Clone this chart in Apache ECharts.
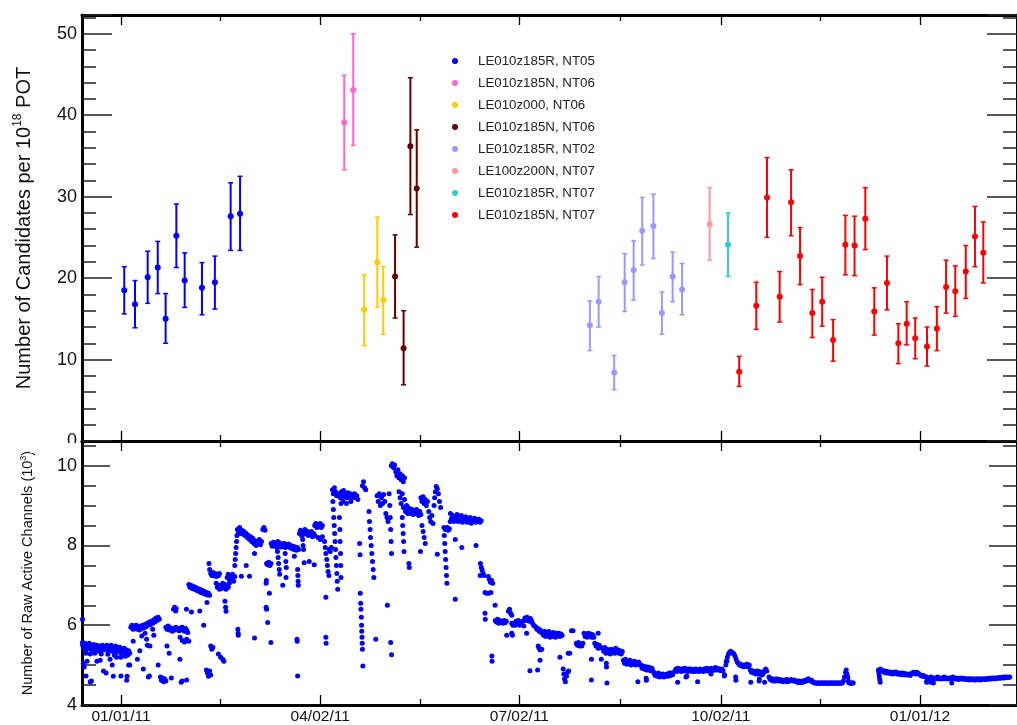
<!DOCTYPE html>
<html>
<head>
<meta charset="utf-8">
<script src="https://cdn.jsdelivr.net/npm/echarts@6/dist/echarts.min.js"></script>
<style>
html, body { margin: 0; background: #fff; }
#chart { width: 1017px; height: 725px; }
</style>
</head>
<body>
<div id="chart"></div>
<script>
// x values are days since 01/01/11
const tickDays = [0, 91, 182, 274, 365];
const tickLabels = ['01/01/11', '04/02/11', '07/02/11', '10/02/11', '01/01/12'];
const minorDays = [45.5, 136.5, 228, 319.5];

const seriesNames = ['LE010z185R, NT05', 'LE010z185N, NT06', 'LE010z000, NT06', 'LE010z185N, NT06 ',
    'LE010z185R, NT02', 'LE100z200N, NT07', 'LE010z185R, NT07', 'LE010z185N, NT07'];
const seriesColors = ['#0000ff', '#ff66cc', '#ffcc00', '#660000', '#9999ff', '#ff9999', '#33cccc', '#ff0000'];

// [day, candidates, low, high]
const nt05 = [[1.5,18.5,15.6,21.4],[6.4,16.8,13.9,19.7],[12.2,20.1,16.9,23.3],[16.8,21.3,18.1,24.5],[20.4,15.0,12.0,18.1],
    [25.3,25.2,21.3,29.1],[29.1,19.7,16.4,23.1],[37.0,18.8,15.5,21.9],[42.9,19.5,16.2,22.7],[50.1,27.6,23.4,31.7],[54.4,27.9,23.4,32.5]];
const nt06N = [[102.0,39.1,33.3,44.9],[106.1,43.1,36.3,50.0]];
const nt06z000 = [[111.1,16.1,11.7,20.4],[117.1,21.9,16.4,27.5],[119.8,17.3,13.1,21.4]];
const nt06Nb = [[125.2,20.2,15.1,25.3],[129.1,11.4,6.9,16.0],[132.2,36.2,27.8,44.6],[135.1,31.0,23.8,38.2]];
const nt02 = [[214.2,14.2,11.1,17.2],[218.2,17.1,14.0,20.2],[225.3,8.4,6.3,10.5],[230.1,19.5,15.9,23.0],[234.2,21.0,17.3,24.6],
    [238.1,25.8,21.6,29.9],[243.2,26.4,22.4,30.3],[247.1,15.7,13.1,18.3],[252.0,20.2,17.1,23.2],[256.3,18.6,15.5,21.8]];
const nt07z200 = [[268.9,26.6,22.2,31.1]];
const nt07R = [[277.3,24.1,20.2,28.0]];
const nt07N = [[282.4,8.5,6.7,10.4],[290.2,16.6,13.7,19.5],[295.1,29.9,25.0,34.8],[300.9,17.7,14.6,20.8],[306.1,29.3,25.2,33.3],
    [310.2,22.7,19.2,26.2],[315.8,15.7,12.7,18.6],[320.3,17.1,14.1,20.1],[325.3,12.4,9.8,14.9],[330.9,24.1,20.4,27.7],
    [335.1,24.0,20.3,27.6],[340.0,27.3,23.5,31.1],[344.1,15.9,13.0,18.8],[349.9,19.4,16.1,22.7],[355.1,12.0,9.5,14.4],
    [358.9,14.4,11.8,17.1],[362.8,12.6,10.1,15.1],[368.2,11.6,9.2,14.0],[372.7,13.8,11.1,16.5],[376.9,18.9,15.7,22.2],
    [381.1,18.4,15.3,21.5],[385.9,20.8,17.5,24.0],[390.1,25.1,21.4,28.8],[393.9,23.1,19.4,26.9]];
const candidateSets = [nt05, nt06N, nt06z000, nt06Nb, nt02, nt07z200, nt07R, nt07N];

// [day, raw active channels (10^3)]
const channels = [
 [-17.5,5.5],[-17,5.42],[-16.5,5.55],[-16,5.38],[-15.5,5.5],[-15,5.45],[-14.5,5.55],[-14,5.4],[-13.5,5.48],[-13,5.36],[-12.5,5.52],[-12,5.44],
 [-11.5,5.4],[-11,5.5],[-10.5,5.45],[-10,5.35],[-9.5,5.48],[-9,5.42],[-8.5,5.5],[-8,5.38],[-7.5,5.46],[-7,5.42],[-6.5,5.5],[-6,5.36],
 [-5.5,5.45],[-5,5.4],[-4.5,5.5],[-4,5.35],[-3.5,5.44],[-3,5.4],[-2.5,5.48],[-2,5.32],[-1.5,5.42],[-1,5.38],[-0.5,5.45],[0,5.3],
 [0.5,5.4],[1,5.35],[1.5,5.42],[2,5.3],[2.5,5.38],[3,5.25],[3.5,5.36],[4,5.3],
 [-16,5.3],[-14,5.28],[-12,5.3],[-9,5.28],[-6,5.27],[-3,5.25],[0,5.2],[2,5.22],
 [-17.6,6.15],[-17.6,5.57],[-17.2,5.05],[-16.8,4.95],[-16,4.73],[-15.5,5.1],[-14,4.58],[-13.5,4.6],[-11,5.1],[-9.5,5.12],
 [-8,4.85],[-6.8,4.8],[-4,5.0],[-3.5,4.72],[0,4.73],[2.6,4.62],[2.8,4.72],[3.5,5.0],[4,5.0],[-5,5.15],[-2,5.2],
 [4.5,5.95],[5,6.0],[5.5,5.9],[6,5.98],[6.5,5.92],[7,6.0],[7.5,5.9],[8,5.96],[8.5,5.88],[9,5.98],[9.5,5.92],[10,6.0],
 [10.5,5.94],[11,6.02],[11.5,5.96],[12,6.05],[12.5,6.0],[13,6.08],[13.5,6.02],[14,6.1],[14.5,6.05],[15,6.14],[15.5,6.08],
 [16,6.18],[16.5,6.12],[17,6.2],[17.5,6.15],
 [5.6,5.6],[7.5,5.15],[8.6,5.36],[9.5,5.73],[10.2,4.9],[11.7,5.65],[12,5.5],[13.2,5.48],[11,5.8],[12.5,4.7],[13,4.73],
 [14.5,5.9],[15,5.75],[17,5.0],
 [18,4.7],[18.5,4.62],[19,4.68],[19.5,4.58],[20,4.65],[20.5,4.6],[23,4.68],[27.5,4.57],[28,4.6],[30,4.63],
 [20.5,5.95],[21,5.9],[21.5,5.98],[22,5.88],[22.5,5.94],[23,5.9],[23.5,5.85],[24,5.92],[24.5,5.88],[25,5.95],[26,5.9],
 [26.5,5.86],[27,5.93],[27.5,5.88],[28,5.95],[28.5,5.9],[29,5.85],[29.5,5.92],[30,5.88],[30.5,5.82],
 [24,6.4],[24.5,6.45],[25,6.36],[25.2,6.42],
 [27,5.7],[28,5.62],[29,5.58],[30,5.65],[31,5.6],[26.9,5.15],[21,5.48],[22,5.3],
 [31,7.02],[31.5,6.95],[32,7.0],[32.5,6.92],[33,6.97],[33.5,6.9],[34,6.95],[34.5,6.88],[35,6.92],[35.5,6.85],[36,6.9],
 [36.5,6.82],[37,6.88],[37.5,6.8],[38,6.85],[38.5,6.78],[39,6.82],[39.5,6.76],[40,6.8],[40.5,6.75],
 [29.9,6.4],[32.2,6.33],[36,6.36],[37.8,6.0],[40.2,7.55],[40.5,7.4],[39.3,6.57],
 [39,4.88],[39.5,4.8],[40,4.72],[40.5,4.85],[41,4.75],[41,5.48],[41.5,5.4],[42,5.45],
 [41,7.3],[41.5,7.25],[42,7.32],[42.5,7.24],[43,7.3],[43.5,7.22],[44,7.28],[44.5,7.24],[45,7.3],
 [43.5,7.05],[44,6.95],[44.5,7.0],[45,6.9],[45.5,7.0],[46,6.92],[46.5,7.05],[47,6.96],[47.5,7.02],[48,6.9],[48.5,7.0],
 [49,6.95],[49.5,7.05],
 [44.5,5.28],[45.5,5.2],[46.5,5.15],[47,5.1],
 [48.5,7.2],[49,7.28],[49.5,7.15],[50,7.25],[50.5,7.18],[51,7.28],[51.5,7.1],[52,7.22],
 [47.5,6.6],[47.8,6.45],[48,6.35],
 [52,7.5],[52.2,7.65],[52.4,7.8],[52.6,7.95],[52.8,8.1],[53,8.25],[53.4,5.9],[53.5,5.8],[53.6,5.75],
 [53.2,8.4],[53.7,8.32],[54.2,8.45],[54.7,8.3],[55.2,8.38],[55.7,8.28],[56.2,8.35],[56.7,8.25],
 [57.2,8.3],[57.7,8.2],[58.2,8.25],[58.7,8.15],[59.2,8.22],[59.7,8.1],[60.2,8.18],[60.7,8.05],[61.2,8.12],[61.7,8.0],
 [62.2,8.1],[62.7,8.05],[63.2,8.15],[63.7,8.02],[64.2,8.1],
 [55,7.23],[58.7,7.23],[57.2,7.5],[61,7.8],[61,5.68],
 [64.8,8.4],[65.3,8.45],[65.8,8.38],
 [66.3,7.05],[66.4,7.12],[66.3,6.45],[66.5,6.4],[67,6.07],[67.8,6.8],[68.5,5.57],
 [66.5,7.55],[67,7.52],[67.5,7.58],[68,7.5],[68.5,7.55],
 [68.6,8.05],[69.1,7.98],[69.6,8.08],[70.1,8.0],[70.6,8.05],[71.1,7.95],[71.6,8.1],[72.1,8.02],[72.6,8.06],[73.1,7.96],
 [73.6,8.04],[74.1,7.98],[74.6,8.05],[75.1,7.95],[75.6,8.02],[76.1,7.98],[76.6,8.04],[77.1,7.95],[77.6,8.0],[78.1,7.92],
 [71.5,7.85],[71.8,7.7],[72,7.55],[72.3,7.4],[72.5,7.28],[75,7.8],[75.3,7.6],[75.5,7.45],[73.9,7.0],[75.4,7.2],
 [78.6,7.98],[79.1,7.9],[79.6,7.96],[80.1,7.88],[80.6,7.95],[81.1,7.9],
 [79.2,7.73],[80.7,7.4],[80.8,7.25],[80.9,7.1],[81,7.0],[80.4,5.65],[80.5,5.6],[80.7,4.73],
 [81.5,8.3],[82,8.38],[82.5,8.25],[83,8.35],[83.5,8.28],[84,8.4],[84.5,8.3],[85,8.36],[85.5,8.25],[86,8.32],[86.5,8.28],
 [87,8.35],[87.5,8.22],[88,8.3],[88.5,8.25],
 [83,8.15],[83.2,8.0],[83.4,7.9],[83.7,7.57],[86,7.6],[88.3,7.52],
 [88.5,8.5],[89,8.55],[89.5,8.45],[90,8.52],[90.5,8.48],[91,8.55],[91.5,8.45],[92,8.5],
 [90,8.2],[91,8.15],[92,8.22],
 [93,8.1],[93.3,7.95],[93.6,7.8],[94,7.65],[94.3,7.5],[94.6,7.35],[95,7.25],[93.6,6.7],[93.6,5.7],[93.7,5.55],
 [95.1,7.9],[95.6,7.85],[96.1,7.95],
 [96.6,9.4],[97,9.3],[97.5,9.45],[98,9.35],[98.5,9.25],
 [96.8,9.1],[97,8.9],[97.2,8.7],[97.4,8.5],[97.6,8.3],[97.8,8.1],[98,7.9],[98.2,7.7],[98.4,7.5],[98.6,7.3],[98.8,7.1],[99,6.9],
 [99.7,9.3],[100.2,9.2],[100.7,9.35],[101.2,9.25],[101.7,9.38],[102.2,9.22],[102.7,9.3],[103.2,9.2],[103.7,9.32],
 [104.2,9.25],[104.7,9.3],[105.2,9.18],[105.7,9.28],[106.2,9.22],[106.7,9.3],[107.2,9.2],[107.7,9.25],[108.2,9.15],
 [100.5,9.05],[101.5,9.1],[103,9.05],[105,9.1],
 [99.8,8.7],[100,8.4],[100.1,8.1],[100.3,7.8],[100.4,7.5],[100.5,7.2],
 [109,8.05],[109.2,7.77],[109.3,6.8],
 [110.3,9.5],[110.8,9.6],[111.3,9.45],[111.8,9.4],
 [109.5,6.55],[109.6,6.4],[109.8,6.2],[109.9,6.0],[110,5.85],[110.1,5.7],[110.2,5.55],[110.3,5.4],[110.5,4.98],
 [113.3,8.85],[113.5,8.6],[113.8,8.4],[114,8.2],[114.3,8.0],[114.6,7.8],[114.9,7.6],[115.2,7.4],[115.5,7.2],[116.4,5.65],
 [117,9.25],[117.5,9.1],[118,9.3],[118.5,9.0],[119,9.2],[119.5,9.05],[120,9.28],[120.5,9.1],
 [121,8.8],[121.5,8.7],[122,8.6],[121.7,6.5],
 [122.5,9.3],[122.8,9.0],[123,8.7],[123.2,8.4],[123.4,8.1],[123.6,7.8],[123.2,5.57],[123.6,5.26],
 [123.5,10.0],[124,10.05],[124.5,9.95],[125,10.02],
 [125.5,9.85],[126,9.75],[126.5,9.9],[127,9.7],[127.5,9.8],[128,9.65],[128.5,9.75],[129,9.6],[129.5,9.7],
 [127,9.35],[127.5,9.2],[128,9.05],[128.5,9.3],[129,8.95],[129.5,9.15],[130,8.85],[130.5,9.0],[131,8.8],
 [128.5,8.7],[128.7,8.5],[128.9,8.3],[129.1,8.1],[129.3,7.85],[131.5,7.55],[131.7,7.45],
 [131,8.95],[131.5,8.85],[132,8.92],[132.5,8.8],[133,8.9],[133.5,8.78],[134,8.88],[134.5,8.8],[135,8.9],[135.5,8.82],
 [136,8.75],[136.5,8.85],[137,8.78],[136.8,7.85],
 [137,9.2],[137.5,9.1],[138,9.22],[138.5,9.05],[139,9.15],[139.5,9.0],[140,9.1],
 [137.5,8.5],[138,8.35],[138.5,8.2],[139,8.05],
 [140.6,8.85],[141,8.7],[141.5,8.6],[142,8.75],[142.5,8.55],
 [143,9.0],[143.3,9.2],[143.6,9.35],[144,9.48],[144.5,9.42],[145,9.3],[145.5,9.1],[146,8.95],[144.5,7.78],
 [147.5,8.45],[147.7,8.25],[147.9,8.05],[148.1,7.85],[148.3,7.65],[148.5,7.45],[148.7,7.25],[148.9,7.05],
 [148.2,8.4],[149,8.45],[149.5,8.38],[150,8.42],
 [150.5,8.8],[151,8.68],[151.5,8.75],[152,8.6],[152.5,8.72],[153,8.65],[153.5,8.78],[154,8.6],[154.5,8.7],[155,8.62],
 [155.5,8.75],[156,8.58],[156.5,8.68],[157,8.62],[157.5,8.72],[158,8.58],[158.5,8.66],[159,8.6],[159.5,8.7],[160,8.56],
 [160.5,8.64],[161,8.6],[161.5,8.68],[162,8.58],[162.5,8.65],[163,8.6],[163.5,8.66],[164,8.58],[164.5,8.62],
 [152.7,8.15],[155.7,7.95],[152.7,6.65],[162.2,8.0],[150.4,8.6],
 [164.2,7.55],[164.6,7.45],[165,7.38],[165.4,7.3],[165.8,7.25],[164.1,7.25],
 [167.8,7.22],[168.3,7.15],[168.8,7.08],[169.3,7.12],[169.8,7.05],
 [166.3,6.82],[167,6.8],[168,6.8],[169,6.82],[170.9,6.5],[166.3,6.3],[166.4,6.15],[169.4,5.23],[169.5,5.1],
 [171,6.12],[171.5,6.08],[172,6.15],[172.5,6.05],[173,6.12],[173.5,6.08],[174,6.1],[174.5,6.05],[175,6.12],[175.5,6.06],[176,6.1],
 [177,6.35],[177.5,6.4],[178,6.3],[178.5,6.25],
 [178.5,6.05],[179,6.0],[179.5,6.05],[180,6.0],[178.5,5.8],[178.8,5.75],[176.2,5.75],
 [180.5,6.1],[181,6.05],[181.5,6.12],[182,6.0],[182.5,6.08],[183,6.02],[183.5,6.1],[184,5.98],
 [184.5,6.18],[185,6.12],[185.5,6.2],[186,6.15],[186.5,6.1],[187,6.17],[187.5,6.12],
 [185.3,5.8],[186.8,4.86],[190.3,4.88],
 [188,6.05],[188.5,6.0],[189,5.98],[189.5,5.95],[190,5.9],[190.5,5.92],[191,5.85],[191.5,5.88],[192,5.82],
 [190.6,5.48],[191,5.42],[191.5,5.38],[192.2,5.4],[191.4,5.12],
 [192.5,5.82],[193,5.75],[193.5,5.85],[194,5.72],[194.5,5.8],[195,5.75],[195.5,5.84],[196,5.7],[196.5,5.78],[197,5.72],
 [197.5,5.82],[198,5.76],[198.5,5.7],[199,5.8],[199.5,5.74],[200,5.8],[200.5,5.72],[201,5.78],[201.5,5.74],
 [200.5,5.2],
 [202,4.9],[202.3,4.78],[202.6,4.65],[203,4.58],[203.5,4.72],[204,4.82],[204.5,4.85],
 [204.3,5.3],[205,5.3],[205.8,5.86],[206.5,5.86],
 [208,5.55],[208.5,5.5],[209,5.57],[209.5,5.48],[210,5.52],[210.5,5.48],[211,5.55],
 [211.5,5.8],[212,5.72],[212.5,5.78],[213,5.7],[213.5,5.8],[214,5.74],[214.5,5.78],[215,5.7],[215.5,5.76],[216,5.7],
 [214.9,5.15],[214.9,4.63],
 [216.4,5.55],[217,5.48],[217.5,5.52],[218,5.42],[218.5,5.5],[219,5.45],[218,5.8],
 [219.4,5.15],[221.7,5.05],[221.8,4.95],[222,4.55],
 [220,5.42],[220.5,5.35],[221,5.44],[221.5,5.3],[222,5.4],[222.5,5.32],[223,5.38],[223.5,5.28],[224,5.4],[224.5,5.32],
 [225,5.36],[225.5,5.3],[226,5.42],[226.5,5.34],[227,5.38],[227.5,5.3],[228,5.36],[228.5,5.28],[229,5.34],
 [229.5,5.12],[230,5.05],[230.5,5.15],[231,5.02],[231.5,5.1],[232,5.05],[232.5,5.12],[233,5.0],[233.5,5.08],[234,5.04],
 [234.5,5.1],[235,5.0],[235.5,5.06],[236,5.02],[236.5,5.08],[237,5.0],
 [236.1,4.58],[239.9,4.67],[240,4.62],
 [237.5,5.0],[238,4.92],[238.5,4.98],[239,4.9],[239.5,4.96],[240,4.88],[240.5,4.95],[241,4.88],[241.5,4.94],[242,4.86],
 [242.5,4.92],[243,4.86],
 [243.5,4.8],[244,4.74],[244.5,4.78],[245,4.72],[245.5,4.8],[246,4.7],[246.5,4.76],[247,4.72],[247.5,4.78],[248,4.7],
 [248.5,4.76],[249,4.72],[249.5,4.78],[250,4.72],[250.5,4.8],[251,4.74],[251.5,4.8],[252,4.76],
 [253,4.85],[253.5,4.9],[254,4.84],[254.5,4.92],[255,4.86],[255.5,4.9],[256,4.84],[256.5,4.9],[257,4.86],[257.5,4.92],
 [258,4.85],[258.5,4.9],[259,4.84],[259.5,4.9],[260,4.86],[260.5,4.9],[261,4.84],[261.5,4.88],[262,4.84],[262.5,4.9],
 [263,4.85],[263.5,4.88],[264,4.84],[264.5,4.9],[265,4.86],[265.5,4.88],[266,4.84],
 [254.3,4.57],[258.1,4.7],[258.5,4.72],[263.4,4.58],
 [266.5,4.9],[267,4.86],[267.5,4.92],[268,4.85],[268.5,4.9],[269,4.88],[269.5,4.92],[270,4.86],[270.5,4.9],[271,4.88],
 [271.5,4.94],[272,4.88],[272.5,4.92],[273,4.88],[273.5,4.9],[274,4.86],[274.5,4.9],[275,4.86],
 [269.5,4.78],[275.6,4.73],[275.7,4.76],
 [276.3,5.0],[276.8,5.1],[276.5,5.1],[277,5.2],[277.5,5.28],[278,5.32],[278.5,5.35],[279,5.32],[279.5,5.3],[280,5.28],[280.5,5.22],
 [281,5.15],[281.5,5.08],[282,5.05],[282.5,5.0],[283,5.02],[283.5,4.98],[284,5.0],[284.5,4.96],[285,5.0],[285.5,4.98],
 [286,5.02],[286.5,4.96],[287,5.0],
 [287.5,4.88],[288,4.82],[288.5,4.86],[289,4.8],[289.5,4.84],[290,4.78],[290.5,4.85],[291,4.8],[291.5,4.84],[292,4.78],
 [292.5,4.82],[293,4.76],[293.5,4.8],[294,4.86],[294.5,4.9],[295,4.85],
 [280.8,4.7],[280.9,4.62],[287.7,4.57],[291.5,4.6],[291.6,4.66],[294,4.57],
 [296,4.7],[296.5,4.65],[297,4.62],[297.5,4.66],[298,4.6],[298.5,4.64],[299,4.6],[299.5,4.66],[300,4.62],[300.5,4.6],
 [301,4.64],[301.5,4.6],[302,4.63],[302.5,4.58],[303,4.62],[303.5,4.6],[304,4.64],[304.5,4.58],[305,4.62],[305.5,4.6],
 [306,4.64],[306.5,4.62],[307,4.6],[307.5,4.63],[308,4.6],[308.5,4.58],[309,4.6],[309.5,4.56],[310,4.6],[310.5,4.58],
 [311,4.56],[311.5,4.6],[312,4.58],[312.5,4.62],[313,4.6],[313.5,4.64],[314,4.66],[314.5,4.62],[315,4.6],[315.5,4.62],
 [316,4.58],[316.5,4.56],[317,4.55],[317.5,4.56],[318,4.54],[318.5,4.56],[319,4.55],[319.5,4.54],[320,4.56],[320.5,4.55],
 [321,4.54],[321.5,4.56],[322,4.55],[322.5,4.54],[323,4.56],[323.5,4.55],[324,4.54],[324.5,4.56],[325,4.55],[325.5,4.54],
 [326,4.56],[326.5,4.55],[327,4.54],[327.5,4.56],[328,4.55],[328.5,4.54],[329,4.56],[329.5,4.55],[330,4.6],
 [330.5,4.7],[331,4.82],[331.3,4.88],[331.6,4.78],[332,4.7],[332.3,4.6],
 [332.5,4.56],[333,4.55],[333.5,4.54],[334,4.56],[334.5,4.55],
 [346,4.88],[346.2,4.8],[346.4,4.72],[346.6,4.64],[346.8,4.57],[347,4.9],[347.5,4.85],
 [348,4.86],[348.5,4.82],[349,4.85],[349.5,4.8],[350,4.84],[350.5,4.8],[351,4.83],[351.5,4.79],[352,4.82],[352.5,4.78],
 [353,4.82],[353.5,4.8],[354,4.83],[354.5,4.78],[355,4.8],[355.5,4.77],[356,4.8],[356.5,4.76],[357,4.8],[357.5,4.76],
 [358,4.79],[358.5,4.75],[359,4.78],[359.5,4.76],[360,4.78],[360.5,4.74],[361,4.78],[361.5,4.8],[362,4.82],[362.5,4.8],
 [363,4.78],[363.5,4.82],[364,4.8],[364.5,4.78],[365,4.76],[365.5,4.74],[366,4.72],[366.5,4.74],[367,4.72],[367.5,4.7],
 [368,4.7],[368.5,4.68],[369,4.66],[369.5,4.68],[370,4.7],[370.5,4.66],[371,4.68],[371.5,4.65],[372,4.68],[372.5,4.66],
 [373,4.7],[373.5,4.66],[374,4.68],[374.5,4.65],[375,4.68],[375.5,4.66],[376,4.7],[376.5,4.66],[377,4.68],[377.5,4.65],
 [378,4.68],[378.5,4.66],[379,4.68],[379.5,4.65],[380,4.7],[380.5,4.66],[381,4.68],[381.5,4.65],[382,4.67],[382.5,4.64],
 [383,4.67],[383.5,4.65],[384,4.68],[384.5,4.65],[385,4.67],[385.5,4.64],[386,4.66],[386.5,4.64],[387,4.66],[387.5,4.63],
 [388,4.66],[388.5,4.64],[389,4.66],[389.5,4.63],[390,4.65],[390.5,4.63],[391,4.66],[391.5,4.64],[392,4.66],[392.5,4.63],
 [393,4.65],[393.5,4.64],[394,4.66],[394.5,4.64],[395,4.66],[395.5,4.64],[396,4.67],[396.5,4.65],[397,4.67],[397.5,4.65],
 [398,4.68],[398.5,4.66],[399,4.68],[399.5,4.66],[400,4.68],[400.5,4.67],[401,4.69],[401.5,4.67],[402,4.69],[402.5,4.68],
 [403,4.7],[403.5,4.68],[404,4.7],[404.5,4.69],[405,4.7],[405.5,4.69],[406,4.7],
 [368.1,4.57],[371.1,4.55],[379.5,4.55],[368,4.58],[370,4.57]
];

const FONT = '"Liberation Sans", Arial, sans-serif';
const INK = '#111';
const xMin = -17.8, xMax = 409.3;

function xAxisFor (gridIndex, position, values, len, withLine, withLabels) {
    return {
        type: 'value', gridIndex: gridIndex, position: position, min: xMin, max: xMax,
        axisLine: { show: withLine, onZero: false, lineStyle: { color: '#000', width: 3 } },
        axisTick: { show: true, inside: true, length: len, customValues: values, lineStyle: { color: '#000', width: 1.3 } },
        axisLabel: withLabels ? {
            show: true, customValues: tickDays, margin: 4, fontSize: 15.5, color: INK, fontFamily: FONT,
            formatter: function (v) { return tickLabels[tickDays.indexOf(v)]; }
        } : { show: false },
        splitLine: { show: false }
    };
}

function yAxisFor (gridIndex, position, min, max, interval, minorSplit, majorLen, withLabels, name) {
    const ax = {
        type: 'value', gridIndex: gridIndex, position: position, min: min, max: max, interval: interval,
        axisLine: { show: true, onZero: false, lineStyle: { color: '#000', width: 3 } },
        axisTick: { show: true, inside: true, length: majorLen, lineStyle: { color: '#222', width: 1.5 } },
        minorTick: { show: true, splitNumber: minorSplit, length: 14, lineStyle: { color: '#222', width: 1.5 } },
        axisLabel: { show: withLabels, margin: 5, fontSize: 18, color: INK, fontFamily: FONT, showMaxLabel: false },
        splitLine: { show: false }
    };
    if (name) Object.assign(ax, name);
    return ax;
}

function errorBars (color) {
    return function (params, api) {
        const x = api.value(0);
        const hi = api.coord([x, api.value(3)]);
        const lo = api.coord([x, api.value(2)]);
        return {
            type: 'group',
            children: [
                { type: 'line', shape: { x1: hi[0], y1: hi[1], x2: lo[0], y2: lo[1] }, style: { stroke: color, lineWidth: 2 } },
                { type: 'line', shape: { x1: hi[0] - 2.5, y1: hi[1], x2: hi[0] + 2.5, y2: hi[1] }, style: { stroke: color, lineWidth: 1.5 } },
                { type: 'line', shape: { x1: lo[0] - 2.5, y1: lo[1], x2: lo[0] + 2.5, y2: lo[1] }, style: { stroke: color, lineWidth: 1.5 } }
            ]
        };
    };
}

const series = [];
candidateSets.forEach(function (set, i) {
    series.push({
        type: 'custom', xAxisIndex: 0, yAxisIndex: 0, renderItem: errorBars(seriesColors[i]),
        encode: { x: 0, y: [2, 3] }, data: set, z: 2, silent: true
    });
});
candidateSets.forEach(function (set, i) {
    series.push({
        name: seriesNames[i], type: 'scatter', xAxisIndex: 0, yAxisIndex: 0, symbol: 'circle', symbolSize: 6,
        itemStyle: { color: seriesColors[i], opacity: 1 }, data: set.map(function (d) { return [d[0], d[1]]; }), z: 3
    });
});
series.push({
    type: 'scatter', xAxisIndex: 4, yAxisIndex: 2, symbol: 'circle', symbolSize: 5,
    itemStyle: { color: '#0000ff', opacity: 1 }, data: channels
});

const chart = echarts.init(document.getElementById('chart'));
chart.setOption({
    animation: false,
    backgroundColor: '#fff',
    textStyle: { fontFamily: FONT },
    grid: [
        { left: 82, right: 0, top: 15, height: 426 },
        { left: 82, right: 0, top: 441, bottom: 19 }
    ],
    legend: {
        orient: 'vertical', left: 447, top: 48, itemGap: 6, itemWidth: 6, itemHeight: 6, icon: 'circle',
        data: seriesNames,
        textStyle: { fontSize: 13.3, color: '#222', fontFamily: FONT, lineHeight: 16, padding: [0, 0, 0, 15] },
        selectedMode: false
    },
    xAxis: [
        xAxisFor(0, 'bottom', tickDays, 10, true, false),
        xAxisFor(0, 'top', tickDays, 10, true, false),
        xAxisFor(0, 'bottom', minorDays, 6, false, false),
        xAxisFor(0, 'top', minorDays, 6, false, false),
        xAxisFor(1, 'bottom', tickDays, 10, true, true),
        xAxisFor(1, 'top', tickDays, 10, true, false),
        xAxisFor(1, 'bottom', minorDays, 6, false, false),
        xAxisFor(1, 'top', minorDays, 6, false, false)
    ],
    yAxis: [
        yAxisFor(0, 'left', 0, 52.3, 10, 5, 30, true, {
            name: 'Number of Candidates per 10{sup|18} POT', nameLocation: 'middle', nameGap: 46,
            nameTextStyle: { fontSize: 20, color: INK, fontFamily: FONT, rich: { sup: { fontSize: 12, padding: [0, 0, 12, 0] } } }
        }),
        yAxisFor(0, 'right', 0, 52.3, 10, 5, 30, false),
        yAxisFor(1, 'left', 4, 10.62, 2, 4, 28, true, {
            name: 'Number of Raw Active Channels (10{sup|3})', nameLocation: 'middle', nameGap: 46,
            nameTextStyle: { fontSize: 14.5, color: INK, fontFamily: FONT, rich: { sup: { fontSize: 9, padding: [0, 0, 8, 0] } } }
        }),
        yAxisFor(1, 'right', 4, 10.62, 2, 4, 28, false)
    ],
    graphic: [
        { type: 'rect', left: 30, top: 443, shape: { width: 50, height: 10 }, style: { fill: '#fff' }, z: 100 }
    ],
    series: series
});
</script>
</body>
</html>
